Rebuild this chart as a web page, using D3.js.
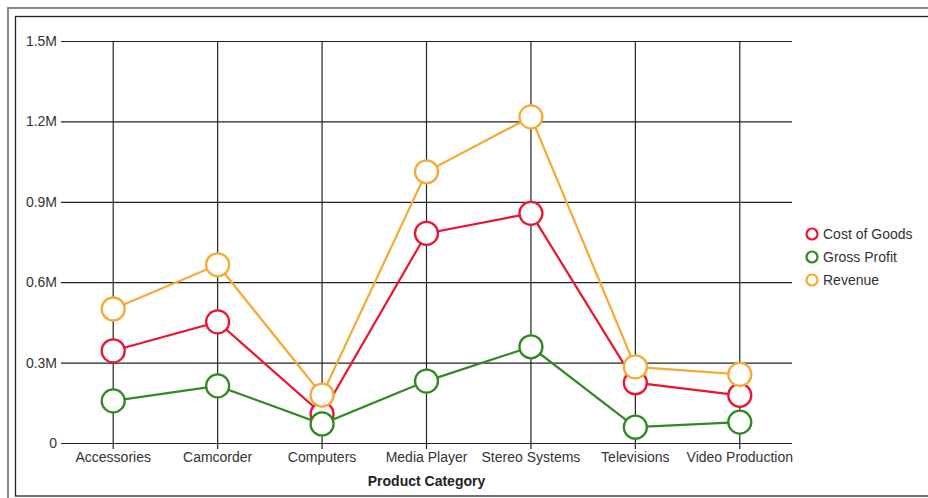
<!DOCTYPE html>
<html>
<head>
<meta charset="utf-8">
<script src="https://cdn.jsdelivr.net/npm/d3@7"></script>
<style>
  html, body { margin: 0; padding: 0; background: #fff; }
  svg { display: block; font-family: "Liberation Sans", Arial, sans-serif; }
</style>
</head>
<body>
<svg id="chart" width="928" height="498"></svg>
<script>
const categories = ["Accessories", "Camcorder", "Computers", "Media Player", "Stereo Systems", "Televisions", "Video Production"];
const costOfGoods = [344000, 452000, 108000, 782000, 857000, 225000, 178000];
const grossProfit = [157000, 213000, 71000, 231000, 359000, 59000, 78000];
const revenue = [500000, 665000, 179000, 1012000, 1217000, 284000, 256000];
const seriesNames = ["Cost of Goods", "Gross Profit", "Revenue"];
const seriesColors = ["#ec1530", "#2f8a1f", "#f7aa33"];
const yTicks = [0, 300000, 600000, 900000, 1200000, 1500000];
const yTickLabels = ["0", "0.3M", "0.6M", "0.9M", "1.2M", "1.5M"];
const xTitle = "Product Category";

(function () {
const seriesValues = [costOfGoods, grossProfit, revenue];
const svg = d3.select("#chart");

// frames
svg.append("rect").attr("x", 8).attr("y", 8).attr("width", 940).attr("height", 500)
  .attr("fill", "none").attr("stroke", "#8a8a8a").attr("stroke-width", 2);
svg.append("rect").attr("x", 15.5).attr("y", 16.5).attr("width", 930).attr("height", 479.5)
  .attr("fill", "none").attr("stroke", "#222").attr("stroke-width", 1.3);

const pLeft = 61, pRight = 792, pTop = 41, pBottom = 443;
const x = d3.scaleBand().domain(categories).range([pLeft, pRight]).padding(0);
const y = d3.scaleLinear().domain([0, 1500000]).range([pBottom, pTop]);
const cx = c => x(c) + x.bandwidth() / 2;

// y gridlines / axis
const yAxis = d3.axisLeft(y).tickValues(yTicks)
  .tickFormat((d, i) => yTickLabels[i])
  .tickSize(-(pRight - pLeft)).tickPadding(4);
const gy = svg.append("g").attr("transform", `translate(${pLeft},0)`).call(yAxis);
gy.select(".domain").remove();
gy.selectAll(".tick line").attr("stroke", "#222").attr("stroke-width", 1.2);
gy.selectAll(".tick text").attr("font-size", 14).attr("fill", "#333")
  .attr("font-family", "Liberation Sans, Arial, sans-serif");

// x gridlines / axis
const xAxis = d3.axisBottom(x).tickSizeInner(6).tickSizeOuter(0).tickPadding(3);
const gx = svg.append("g").attr("transform", `translate(0,${pBottom})`).call(xAxis);
gx.select(".domain").remove();
gx.selectAll(".tick line").attr("y1", -(pBottom - pTop)).attr("y2", 6)
  .attr("stroke", "#222").attr("stroke-width", 1.2);
gx.selectAll(".tick text").attr("font-size", 14).attr("fill", "#333")
  .attr("font-family", "Liberation Sans, Arial, sans-serif");

svg.append("text").attr("x", (pLeft + pRight) / 2).attr("y", 486)
  .attr("text-anchor", "middle").attr("font-size", 14).attr("font-weight", "bold")
  .attr("fill", "#222").text(xTitle);

// series
const line = d3.line().x((d, i) => cx(categories[i])).y(d => y(d));
seriesValues.forEach((vals, s) => {
  const g = svg.append("g");
  g.append("path").datum(vals).attr("d", line).attr("fill", "none")
    .attr("stroke", seriesColors[s]).attr("stroke-width", 2.2);
  g.selectAll("circle").data(vals).join("circle")
    .attr("cx", (d, i) => cx(categories[i])).attr("cy", d => y(d)).attr("r", 11.5)
    .attr("fill", "#fff").attr("stroke", seriesColors[s]).attr("stroke-width", 2.3);
});

// legend
const lg = svg.append("g").attr("transform", "translate(812,234)");
seriesNames.forEach((n, i) => {
  const row = lg.append("g").attr("transform", `translate(0,${i * 23})`);
  row.append("circle").attr("r", 5.5).attr("fill", "#fff")
    .attr("stroke", seriesColors[i]).attr("stroke-width", 2.2);
  row.append("text").attr("x", 11).attr("y", 5).attr("font-size", 14)
    .attr("fill", "#333").text(n);
});
})();
</script>
</body>
</html>
